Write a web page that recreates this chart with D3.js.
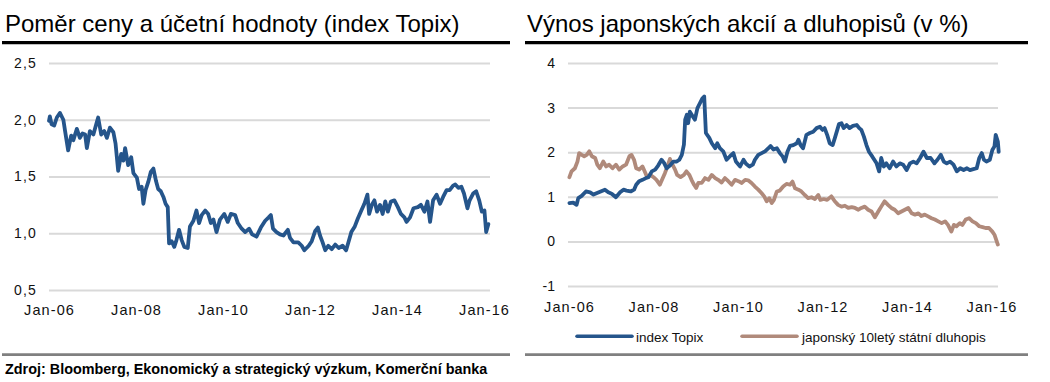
<!DOCTYPE html>
<html>
<head>
<meta charset="utf-8">
<script src="https://cdn.jsdelivr.net/npm/d3@7"></script>
<style>
  html, body { margin: 0; padding: 0; background: #fff; }
  svg { display: block; font-family: "Liberation Sans", Arial, sans-serif; }
</style>
</head>
<body>
<svg id="chart" width="1050" height="382"></svg>
<script>
// ---------- DATA ----------
const leftTitle = "Poměr ceny a účetní hodnoty (index Topix)";
const rightTitle = "Výnos japonských akcií a dluhopisů (v %)";
const sourceText = "Zdroj: Bloomberg, Ekonomický a strategický výzkum, Komerční banka";

const xTickYears = [2006, 2008, 2010, 2012, 2014, 2016];
const xTickLabels = ["Jan-06", "Jan-08", "Jan-10", "Jan-12", "Jan-14", "Jan-16"];
const leftYTicks = [0.5, 1.0, 1.5, 2.0, 2.5];
const leftYLabels = ["0,5", "1,0", "1,5", "2,0", "2,5"];
const rightYTicks = [-1, 0, 1, 2, 3, 4];
const rightYLabels = ["-1", "0", "1", "2", "3", "4"];
const legendLabels = ["index Topix", "japonský 10letý státní dluhopis"];

// Price-to-book, Topix (decimal year, value)
const pbDates = [2006.00,2006.02,2006.06,2006.12,2006.18,2006.25,2006.33,2006.37,2006.44,2006.51,2006.56,2006.64,2006.71,2006.77,2006.83,2006.87,2006.94,2007.02,2007.10,2007.13,2007.20,2007.27,2007.33,2007.40,2007.48,2007.53,2007.59,2007.66,2007.71,2007.75,2007.82,2007.89,2007.94,2008.02,2008.07,2008.13,2008.17,2008.22,2008.28,2008.34,2008.40,2008.46,2008.51,2008.57,2008.63,2008.68,2008.73,2008.76,2008.82,2008.88,2008.93,2008.99,2009.05,2009.11,2009.19,2009.24,2009.32,2009.39,2009.45,2009.51,2009.59,2009.66,2009.72,2009.78,2009.85,2009.93,2010.03,2010.11,2010.18,2010.28,2010.34,2010.43,2010.51,2010.60,2010.67,2010.77,2010.87,2010.97,2011.05,2011.10,2011.15,2011.23,2011.31,2011.39,2011.49,2011.54,2011.62,2011.73,2011.81,2011.87,2011.97,2012.04,2012.12,2012.18,2012.23,2012.29,2012.35,2012.42,2012.50,2012.58,2012.66,2012.75,2012.83,2012.89,2012.95,2013.03,2013.10,2013.18,2013.25,2013.32,2013.36,2013.42,2013.48,2013.54,2013.61,2013.67,2013.73,2013.79,2013.86,2013.94,2014.02,2014.09,2014.17,2014.22,2014.30,2014.38,2014.48,2014.55,2014.63,2014.70,2014.76,2014.83,2014.91,2014.99,2015.06,2015.14,2015.21,2015.29,2015.34,2015.41,2015.48,2015.54,2015.62,2015.67,2015.75,2015.82,2015.89,2015.95,2016.01,2016.05,2016.10];
const pbValues = [1.99,2.03,1.96,1.95,2.02,2.06,2.00,1.90,1.73,1.86,1.82,1.92,1.84,1.88,1.87,1.75,1.90,1.87,1.98,2.02,1.87,1.90,1.84,1.93,1.89,1.79,1.55,1.70,1.64,1.75,1.60,1.67,1.53,1.49,1.39,1.41,1.26,1.38,1.45,1.54,1.57,1.46,1.39,1.37,1.32,1.26,1.23,0.91,0.93,0.88,0.94,1.03,0.94,0.88,0.87,1.06,1.11,1.20,1.09,1.16,1.20,1.17,1.09,1.12,1.01,1.12,1.17,1.10,1.17,1.16,1.09,1.04,1.01,1.04,0.99,0.97,1.05,1.11,1.14,1.16,1.04,1.01,0.99,0.98,1.03,0.96,0.92,0.92,0.89,0.85,0.89,0.93,1.02,1.05,0.98,0.92,0.85,0.89,0.86,0.90,0.87,0.89,0.85,0.93,1.01,1.06,1.13,1.20,1.26,1.34,1.17,1.25,1.29,1.19,1.25,1.17,1.28,1.19,1.28,1.29,1.23,1.17,1.14,1.10,1.14,1.22,1.23,1.25,1.19,1.28,1.10,1.29,1.34,1.26,1.32,1.38,1.38,1.42,1.43,1.40,1.41,1.35,1.22,1.29,1.35,1.37,1.29,1.19,1.20,1.01,1.08];

// Dividend yield of Topix (%)
const topixDates = [2006.01,2006.10,2006.18,2006.22,2006.30,2006.40,2006.50,2006.58,2006.65,2006.75,2006.85,2006.93,2007.01,2007.11,2007.21,2007.29,2007.36,2007.46,2007.54,2007.59,2007.66,2007.74,2007.82,2007.88,2007.96,2008.04,2008.11,2008.19,2008.25,2008.31,2008.39,2008.47,2008.55,2008.61,2008.67,2008.72,2008.75,2008.79,2008.82,2008.86,2008.93,2008.98,2009.04,2009.10,2009.16,2009.20,2009.24,2009.32,2009.38,2009.46,2009.51,2009.57,2009.65,2009.73,2009.81,2009.89,2009.95,2010.05,2010.13,2010.19,2010.27,2010.35,2010.40,2010.48,2010.56,2010.64,2010.72,2010.77,2010.84,2010.92,2010.99,2011.06,2011.11,2011.17,2011.23,2011.31,2011.39,2011.43,2011.48,2011.54,2011.62,2011.70,2011.78,2011.86,2011.94,2012.00,2012.05,2012.11,2012.17,2012.24,2012.29,2012.35,2012.39,2012.45,2012.50,2012.57,2012.64,2012.72,2012.81,2012.87,2012.92,2012.98,2013.04,2013.10,2013.18,2013.28,2013.34,2013.39,2013.45,2013.51,2013.59,2013.67,2013.75,2013.83,2013.91,2013.99,2014.07,2014.15,2014.23,2014.31,2014.39,2014.47,2014.56,2014.65,2014.72,2014.80,2014.87,2014.94,2015.02,2015.10,2015.18,2015.26,2015.34,2015.42,2015.49,2015.57,2015.65,2015.71,2015.77,2015.82,2015.88,2015.96,2016.02,2016.07,2016.10,2016.15,2016.17];
const topixYield = [0.86,0.87,0.82,0.97,1.02,1.12,1.10,1.05,1.08,1.12,1.16,1.10,1.07,0.99,1.10,1.16,1.14,1.12,1.16,1.27,1.35,1.38,1.42,1.44,1.57,1.61,1.70,1.83,1.76,1.64,1.70,1.79,1.79,1.83,1.94,2.17,2.73,2.84,2.65,2.91,2.80,2.73,2.99,3.10,3.21,3.25,2.43,2.32,2.20,2.09,2.20,2.09,2.02,1.83,1.91,1.98,1.79,1.68,1.83,1.74,1.68,1.72,1.83,1.94,1.98,2.02,2.09,2.14,2.06,2.09,1.98,1.90,1.79,2.01,2.14,2.16,2.20,2.28,2.16,2.09,2.39,2.43,2.46,2.54,2.57,2.50,2.54,2.39,2.20,2.16,2.31,2.50,2.63,2.65,2.54,2.61,2.54,2.59,2.61,2.54,2.50,2.35,2.16,2.01,1.90,1.75,1.57,1.87,1.68,1.75,1.64,1.79,1.68,1.75,1.72,1.60,1.75,1.79,1.75,1.87,2.01,1.87,1.87,1.75,1.83,1.94,1.79,1.75,1.79,1.72,1.57,1.64,1.60,1.64,1.60,1.62,1.64,1.87,1.98,1.83,1.79,1.83,2.05,2.13,2.39,2.24,2.01];

// Japanese 10Y government bond yield (%)
const jgbDates = [2006.01,2006.06,2006.14,2006.20,2006.24,2006.30,2006.36,2006.42,2006.48,2006.54,2006.62,2006.67,2006.73,2006.81,2006.88,2006.95,2007.03,2007.11,2007.19,2007.27,2007.35,2007.43,2007.48,2007.54,2007.59,2007.66,2007.74,2007.80,2007.85,2007.93,2008.00,2008.07,2008.15,2008.22,2008.27,2008.33,2008.39,2008.45,2008.51,2008.56,2008.64,2008.72,2008.78,2008.85,2008.90,2008.96,2009.01,2009.06,2009.14,2009.22,2009.30,2009.38,2009.46,2009.53,2009.61,2009.69,2009.77,2009.85,2009.93,2010.01,2010.09,2010.17,2010.24,2010.32,2010.40,2010.48,2010.56,2010.62,2010.68,2010.74,2010.80,2010.85,2010.92,2010.99,2011.07,2011.15,2011.23,2011.29,2011.35,2011.43,2011.50,2011.58,2011.66,2011.74,2011.82,2011.90,2011.95,2012.03,2012.11,2012.21,2012.29,2012.37,2012.45,2012.53,2012.61,2012.69,2012.77,2012.85,2012.92,2013.00,2013.08,2013.16,2013.24,2013.32,2013.39,2013.47,2013.55,2013.63,2013.71,2013.79,2013.87,2013.95,2014.03,2014.11,2014.19,2014.27,2014.34,2014.42,2014.50,2014.58,2014.66,2014.74,2014.82,2014.90,2014.97,2015.05,2015.11,2015.17,2015.25,2015.31,2015.39,2015.47,2015.55,2015.63,2015.71,2015.79,2015.86,2015.94,2016.02,2016.07,2016.11,2016.15];
const jgbYield = [1.44,1.57,1.64,1.79,1.98,1.94,1.91,1.94,2.02,1.91,1.87,1.72,1.64,1.79,1.68,1.72,1.64,1.72,1.61,1.68,1.72,1.91,1.94,1.83,1.64,1.61,1.68,1.55,1.44,1.49,1.44,1.38,1.27,1.42,1.53,1.68,1.85,1.72,1.61,1.49,1.44,1.49,1.57,1.49,1.38,1.27,1.20,1.31,1.31,1.42,1.38,1.49,1.42,1.38,1.32,1.42,1.35,1.27,1.38,1.35,1.31,1.38,1.37,1.31,1.23,1.16,1.08,1.01,0.90,0.97,0.86,0.93,1.12,1.14,1.23,1.29,1.27,1.34,1.19,1.16,1.12,1.04,0.97,0.99,0.95,1.04,0.93,0.95,0.93,1.01,0.90,0.82,0.78,0.80,0.75,0.77,0.75,0.71,0.75,0.78,0.71,0.67,0.54,0.67,0.78,0.90,0.82,0.75,0.71,0.63,0.67,0.71,0.75,0.63,0.60,0.63,0.57,0.60,0.56,0.52,0.49,0.45,0.41,0.45,0.37,0.22,0.37,0.34,0.41,0.37,0.49,0.52,0.45,0.41,0.34,0.32,0.30,0.30,0.22,0.15,0.04,-0.07];

// ---------- DRAWING ----------
const BLUE = "#25558b";
const BROWN = "#b08a7b";
const GRID = "#d9d9d9";
const TEXT = "#111";

const svg = d3.select("#chart");

function drawPanel(cfg) {
  const g = svg.append("g");
  // title
  g.append("text")
    .attr("x", cfg.titleX).attr("y", 32)
    .attr("font-size", 24).attr("fill", "#000")
    .text(cfg.title);
  // title rule
  g.append("line")
    .attr("x1", cfg.ruleX1).attr("x2", cfg.ruleX2)
    .attr("y1", 42.7).attr("y2", 42.7)
    .attr("stroke", "#000").attr("stroke-width", 3.3);
  // bottom rule
  g.append("line")
    .attr("x1", cfg.ruleX1).attr("x2", cfg.ruleX2)
    .attr("y1", 354.7).attr("y2", 354.7)
    .attr("stroke", "#808080").attr("stroke-width", 2.8);

  const x = d3.scaleLinear().domain([2006, 2016]).range(cfg.xRange);
  const y = d3.scaleLinear().domain(cfg.yDomain).range(cfg.yRange);

  // y grid + labels
  const yAxis = d3.axisLeft(y)
    .tickValues(cfg.yTicks)
    .tickSize(-(cfg.gridX2 - cfg.gridX1))
    .tickPadding(cfg.yPad)
    .tickFormat((d, i) => cfg.yLabels[i]);
  const ya = g.append("g").attr("transform", `translate(${cfg.gridX1},0)`).call(yAxis);
  ya.select(".domain").remove();
  ya.selectAll(".tick line").attr("stroke", GRID).attr("stroke-width", 2);
  ya.selectAll(".tick text")
    .attr("font-size", 14).attr("fill", TEXT)
    .attr("font-family", "Liberation Sans, Arial, sans-serif")
    .attr("letter-spacing", cfg.yLetter);

  // x labels
  const xAxis = d3.axisBottom(x)
    .tickValues(xTickYears)
    .tickSize(0)
    .tickPadding(cfg.xPad)
    .tickFormat((d, i) => xTickLabels[i]);
  const xa = g.append("g").attr("transform", `translate(0,${cfg.yRange[0]})`).call(xAxis);
  xa.select(".domain").remove();
  xa.selectAll(".tick text")
    .attr("font-size", 14.5).attr("fill", TEXT)
    .attr("font-family", "Liberation Sans, Arial, sans-serif")
    .attr("letter-spacing", "1.1px");

  const line = d3.line()
    .x(d => x(d[0])).y(d => y(d[1]))
    .curve(d3.curveLinear);

  cfg.series.forEach(s => {
    g.append("path")
      .datum(d3.zip(s.dates, s.values))
      .attr("d", line)
      .attr("fill", "none")
      .attr("stroke", s.color)
      .attr("stroke-width", 3.8)
      .attr("stroke-linejoin", "round")
      .attr("stroke-linecap", "round");
  });
  return g;
}

drawPanel({
  title: leftTitle, titleX: 5, ruleX1: 2, ruleX2: 510,
  xRange: [49, 484], yDomain: [0.5, 2.5], yRange: [290, 63],
  gridX1: 49, gridX2: 490, yTicks: leftYTicks, yLabels: leftYLabels,
  yPad: 12, yLetter: "1.2px", xPad: 15,
  series: [{ dates: pbDates, values: pbValues, color: BLUE }]
});

drawPanel({
  title: rightTitle, titleX: 527, ruleX1: 525, ruleX2: 1028,
  xRange: [569, 991.5], yDomain: [-1, 4], yRange: [286, 63],
  gridX1: 568, gridX2: 998, yTicks: rightYTicks, yLabels: rightYLabels,
  yPad: 13, yLetter: "0px", xPad: 16,
  series: [
    { dates: jgbDates, values: jgbYield, color: BROWN },
    { dates: topixDates, values: topixYield, color: BLUE }
  ]
});

// legend
const legendItems = [
  { label: legendLabels[0], color: BLUE, x1: 577, x2: 632, tx: 636 },
  { label: legendLabels[1], color: BROWN, x1: 742, x2: 797, tx: 802 }
];
const lg = svg.append("g");
legendItems.forEach(it => {
  lg.append("line")
    .attr("x1", it.x1).attr("x2", it.x2)
    .attr("y1", 336.3).attr("y2", 336.3)
    .attr("stroke", it.color).attr("stroke-width", 3.5)
    .attr("stroke-linecap", "round");
  lg.append("text")
    .attr("x", it.tx).attr("y", 341.5)
    .attr("font-size", 13.5).attr("fill", TEXT)
    .text(it.label);
});

// source
svg.append("text")
  .attr("x", 5).attr("y", 373.5)
  .attr("font-size", 14.4).attr("font-weight", "bold").attr("fill", "#000")
  .text(sourceText);
</script>
</body>
</html>
